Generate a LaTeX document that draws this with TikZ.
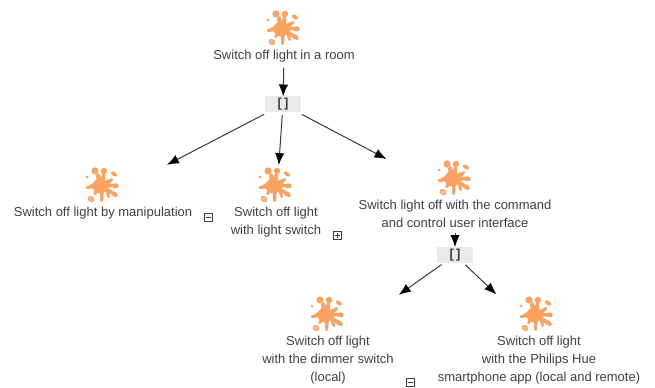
\documentclass[tikz,border=0pt]{standalone}
\usepackage{fontspec}
\setmainfont{Liberation Sans}
\usetikzlibrary{arrows.meta}
\definecolor{splat}{HTML}{F9A262}
\definecolor{splatedge}{HTML}{F08A4B}
\definecolor{labeltext}{HTML}{3F3F4A}
\definecolor{andfill}{HTML}{E9EBEB}
\definecolor{linecol}{HTML}{3A3A3A}
\tikzset{
  x=0.75pt,y=-0.75pt,
  goallabel/.style={font=\fontsize{9.75}{13.5}\selectfont,text=labeltext,align=center,inner sep=0pt},
  goalpoint/.style={inner sep=0pt,minimum size=0pt,outer sep=0pt},
  andbox/.style={fill=andfill,minimum width=27pt,minimum height=12pt,inner sep=0pt,outer sep=0pt,
    font=\fontsize{9.75}{9.75}\selectfont\bfseries,text=labeltext},
  conn/.style={draw=linecol,line width=0.75pt,-{Latex[length=9pt,width=7pt,color=black]}},
  toggle/.style={draw=labeltext,fill=white,line width=0.4pt,minimum size=6pt,inner sep=0pt},
  splaticon/.pic={
    \fill[splat] (-3,1) circle (7.5);
    \fill[splat] (-8,-14) circle (3.6);
    \fill[splat] (1,-14) circle (3.2);
    \fill[splat] (-7,-10) -- (-4,-12) -- (0,-3) -- (-6,-2) -- cycle;
    \fill[splat] (-1,-12) -- (2,-11) -- (2,-2) -- (-3,-2) -- cycle;
    \fill[splat] (0,-3) -- (9,-7) -- (10,-5) -- (3,2) -- cycle;
    \fill[splat,rotate around={-35:(11,-11)}] (11,-11) ellipse (3.4 and 2);
    \fill[splat] (-16,-8) circle (1.5);
    \fill[splat] (0,-2) -- (10,-1) .. controls (14,-3) and (17,0) .. (15,3) .. controls (12,4) and (10,3) .. (9,2) -- (1,4) -- cycle;
    \fill[splat] (1,1) -- (10,6) .. controls (15,7) and (16,12) .. (13,12) .. controls (10,12) and (9,10) .. (8,9) -- (-1,5) -- cycle;
    \fill[splat] (-3,3) -- (1,3) -- (0,16) .. controls (-1,18) and (-3,17) .. (-3,15) -- cycle;
    \fill[splat] (2,4) -- (6,6) -- (7,12) .. controls (6,14) and (4,13) .. (4,11) -- cycle;
    \fill[splat] (-7,3) -- (-3,5) -- (-8,10) -- (-10,9) -- cycle;
    \fill[splat] (-8,-3) -- (-8,3) -- (-15,4) .. controls (-18,4) and (-18,1) .. (-15,1) -- cycle;
    \fill[splat!75,draw=splatedge,line width=0.3pt,rotate around={-30:(-12,14)}] (-12,14) ellipse (3.4 and 2.6);
  }
}
\begin{document}
\begin{tikzpicture}
\useasboundingbox (0,0) rectangle (655,388);
\fill[white] (0,0) rectangle (655,388);
% icons
\pic at (284,28) {splaticon};
\pic at (103,185) {splaticon};
\pic at (276,185) {splaticon};
\pic at (455,178) {splaticon};
\pic at (328,314) {splaticon};
\pic at (537,314) {splaticon};
% labels
\node[goallabel] (l0) at (284,56) {Switch off light in a room};
\node[goallabel] (l1) at (103,213) {Switch off light by manipulation};
\node[goallabel] (l2) at (276,222) {Switch off light\\with light switch};
\node[goallabel] (l3) at (455,214) {Switch light off with the command\\and control user interface};
\node[goallabel] (l4) at (328,360) {Switch off light\\with the dimmer switch\\(local)};
\node[goallabel] (l5) at (539,360) {Switch off light\\with the Philips Hue\\smartphone app (local and remote)};
% group centres of the goals
\node[goalpoint] (g1) at (103,198) {};
\node[goalpoint] (g2) at (276,205) {};
\node[goalpoint] (g3) at (455,195) {};
\node[goalpoint] (g4) at (328,345) {};
\node[goalpoint] (g5) at (537,333) {};
% and boxes
\node[andbox] (a1) at (283,104.5) {[\,]};
\node[andbox] (a2) at (455,255) {[\,]};
% toggles
\node[toggle] (t1) at (208,217) {};
\draw[labeltext,line width=0.5pt] (205.5,217) -- (210.5,217);
\node[toggle] (t2) at (337,235) {};
\draw[labeltext,line width=0.5pt] (334.5,235) -- (339.5,235) (337,232.5) -- (337,237.5);
\node[toggle] (t3) at (410,382) {};
\draw[labeltext,line width=0.5pt] (407.5,382) -- (412.5,382);
% connectors
\draw[conn,shorten <=4pt] (l0) -- (a1);
\draw[conn,shorten <=3pt,shorten >=54pt] (a1) -- (g1);
\draw[conn,shorten <=2pt,shorten >=30pt] (a1) -- (g2);
\draw[conn,shorten <=3pt,shorten >=58pt] (a1) -- (g3);
\draw[conn,shorten <=4pt] (l3) -- (a2);
\draw[conn,shorten <=2pt,shorten >=65pt] (a2) -- (g4);
\draw[conn,shorten <=2pt,shorten >=42pt] (a2) -- (g5);
\end{tikzpicture}
\end{document}
